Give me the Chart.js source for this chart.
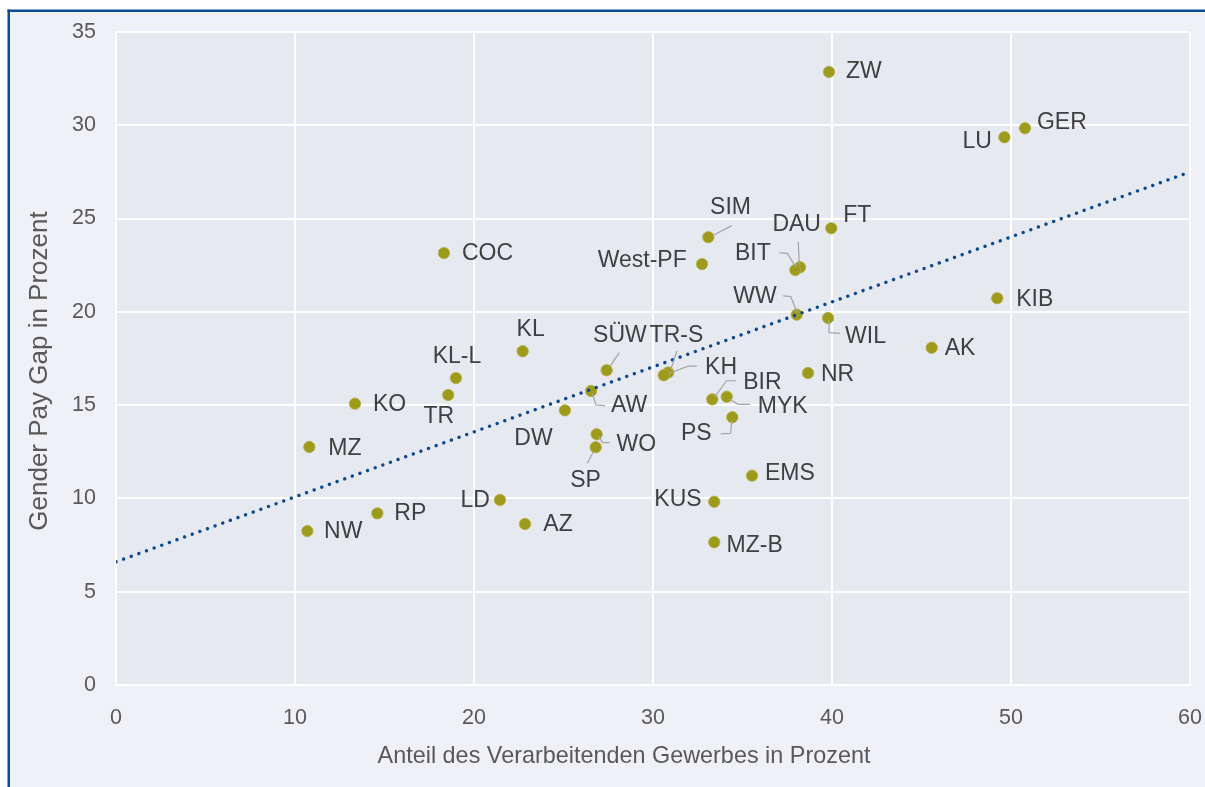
<!DOCTYPE html>
<html>
<head>
<meta charset="utf-8">
<script src="https://cdn.jsdelivr.net/npm/chart.js@4"></script>
<style>
  html, body { margin: 0; padding: 0; background: #ffffff; overflow: hidden; }
  #c { display: block; }
</style>
</head>
<body>
<canvas id="c" width="1205" height="787"></canvas>
<script>
// ---- Data ----
const regions = ["ZW","GER","LU","KIB","AK","SIM","West-PF","DAU","BIT","FT","WW","WIL","COC",
  "KL","KL-L","TR","SÜW","TR-S","KH","AW","DW","BIR","MYK","PS","WO","SP","KO","MZ","NR",
  "RP","NW","LD","AZ","KUS","EMS","MZ-B"];
const manufacturingShare = [39.83,50.78,49.63,49.23,45.57,33.09,32.74,38.21,37.95,39.96,38.03,39.78,18.32,
  22.72,18.99,18.56,27.41,30.85,30.6,26.54,25.08,33.31,34.12,34.43,26.85,26.8,13.35,10.8,38.66,
  14.6,10.69,21.45,22.85,33.42,35.53,33.42];
const genderPayGap = [32.86,29.84,29.36,20.73,18.08,24.0,22.56,22.39,22.24,24.48,19.85,19.67,23.15,
  17.89,16.45,15.54,16.87,16.75,16.6,15.76,14.72,15.31,15.45,14.35,13.44,12.74,15.08,12.76,16.72,
  9.2,8.25,9.92,8.63,9.82,11.22,7.65];
const trendX = [0, 60];
const trendY = [6.6, 27.5];
const xTicks = [0,10,20,30,40,50,60];
const yTicks = [0,5,10,15,20,25,30,35];
const xTitle = "Anteil des Verarbeitenden Gewerbes in Prozent";
const yTitle = "Gender Pay Gap in Prozent";

// ---- Label placement (pixel offsets from the point; presentation only) ----
// [dx, dy, align, leaderPolyline]
const labelPlacement = {
  "ZW": [17, 0, "left"],
  "GER": [12, -6, "left"],
  "LU": [-12.6, 4, "right"],
  "KIB": [19, 1, "left"],
  "AK": [13, 1, "left"],
  "SIM": [22.2, -29.5, "center", [[5,-2],[23.4,-11.6]]],
  "West-PF": [-15.3, -3.3, "right"],
  "DAU": [-3.3, -42.8, "center", [[-1.7,-25.6],[-0.7,-3]]],
  "BIT": [-24.6, -16.3, "right", [[-16.3,-17.3],[-8,-16.7],[0.7,-2.7]]],
  "FT": [12, -12.5, "left"],
  "WW": [-20, -18, "right", [[-13.4,-18.7],[-6,-18],[0.6,-2]]],
  "WIL": [17, 18.6, "left", [[1,2],[1,14.6],[12,15.3]]],
  "COC": [18, 1, "left"],
  "KL": [8, -22, "center"],
  "KL-L": [1, -21, "center"],
  "TR": [-9.5, 22, "center"],
  "SÜW": [13.3, -34.3, "center", [[12.6,-17.6],[3.3,-3.6]]],
  "TR-S": [8.2, -37.3, "center", [[8.7,-21.6],[2.7,-3.3]]],
  "KH": [41.3, -7.7, "left", [[33,-9.2],[24.6,-9.2],[5.6,-2]]],
  "AW": [20, 15, "left", [[1,2.3],[5,14],[14,14.7]]],
  "DW": [-12.3, 28.7, "right"],
  "BIR": [31, -16.8, "left", [[23.7,-18.6],[14.4,-18.6],[2,-2]]],
  "MYK": [31, 10, "left", [[2.6,2.6],[11.6,7.6],[23.3,7.6]]],
  "PS": [-20.6, 16.7, "right", [[-0.6,2.7],[-1.6,16],[-11.6,16.7]]],
  "WO": [20, 10, "left", [[1.6,1.7],[6,8.4],[13.3,8.4]]],
  "SP": [-10.2, 33.2, "center", [[-2.4,4.4],[-8.4,16]]],
  "KO": [18, 1.3, "left"],
  "MZ": [19, 1.3, "left"],
  "NR": [13, 2, "left"],
  "RP": [17, 0.7, "left"],
  "NW": [16.7, 0.7, "left"],
  "LD": [-10, 0.7, "right"],
  "AZ": [18.3, 1, "left"],
  "KUS": [-12.6, -2.4, "right"],
  "EMS": [13, -2.4, "left"],
  "MZ-B": [12.4, 3.7, "left"]
};

const FONT = '"Liberation Sans", Arial, sans-serif';
const OLIVE = '#9e9a1c';
const NAVY = '#0b4a8c';

const framePlugin = {
  id: 'frame',
  beforeDraw(chart) {
    const ctx = chart.ctx, W = chart.width, H = chart.height;
    ctx.save();
    ctx.fillStyle = '#ffffff';
    ctx.fillRect(0, 0, W, H);
    ctx.fillStyle = '#f0f1f7';
    ctx.fillRect(8, 10, W, H);
    ctx.fillStyle = '#0d4a8e';
    ctx.fillRect(7.5, 9.5, W, 2.5);
    ctx.fillRect(7.5, 9.5, 2.5, H);
    const a = chart.chartArea;
    ctx.fillStyle = '#e7e9f1';
    ctx.fillRect(a.left, a.top, a.right - a.left, a.bottom - a.top);
    ctx.restore();
  },
  afterDraw(chart) {
    const ctx = chart.ctx, a = chart.chartArea;
    ctx.save();
    ctx.fillStyle = '#595959';
    ctx.textAlign = 'center';
    ctx.textBaseline = 'middle';
    // x-axis title
    ctx.font = '23.4px ' + FONT;
    ctx.fillText(xTitle, 624, 757);
    // y-axis title (vertical)
    ctx.translate(40, 371);
    ctx.rotate(-Math.PI / 2);
    ctx.font = '26px ' + FONT;
    ctx.fillText(yTitle, 0, 0);
    ctx.restore();
  }
};

const labelPlugin = {
  id: 'pointLabels',
  afterDatasetsDraw(chart) {
    const ctx = chart.ctx;
    const meta = chart.getDatasetMeta(1);
    ctx.save();
    ctx.font = '23px ' + FONT;
    ctx.textBaseline = 'middle';
    meta.data.forEach((el, i) => {
      const name = regions[i];
      const p = labelPlacement[name] || [14, 0, 'left'];
      const x = el.x, y = el.y;
      if (p[3]) {
        ctx.strokeStyle = '#a5a5a5';
        ctx.lineWidth = 1.2;
        ctx.beginPath();
        p[3].forEach((q, k) => {
          if (k === 0) ctx.moveTo(x + q[0], y + q[1]); else ctx.lineTo(x + q[0], y + q[1]);
        });
        ctx.stroke();
      }
      ctx.fillStyle = '#404040';
      ctx.textAlign = p[2];
      ctx.fillText(name, x + p[0], y + p[1]);
    });
    ctx.restore();
  }
};

new Chart(document.getElementById('c'), {
  type: 'scatter',
  data: {
    datasets: [
      {
        label: 'Trend',
        type: 'line',
        data: trendX.map((x, i) => ({ x: x, y: trendY[i] })),
        borderColor: NAVY,
        borderWidth: 3.4,
        borderDash: [0.01, 8.1],
        borderCapStyle: 'round',
        pointRadius: 0,
        fill: false,
        tension: 0,
        order: 0
      },
      {
        label: 'Kreise',
        data: manufacturingShare.map((x, i) => ({ x: x, y: genderPayGap[i] })),
        backgroundColor: OLIVE,
        borderColor: '#b3b04a',
        borderWidth: 0.8,
        pointRadius: 5.7,
        order: 1
      }
    ]
  },
  options: {
    responsive: false,
    animation: false,
    devicePixelRatio: 1,
    layout: { padding: { left: 20, right: 15, top: 32, bottom: 0 } },
    plugins: { legend: { display: false }, tooltip: { enabled: false }, title: { display: false } },
    scales: {
      x: {
        type: 'linear',
        min: 0, max: 60,
        afterBuildTicks(s) { s.ticks = xTicks.map(v => ({ value: v })); },
        afterFit(s) { s.height = 102; s.paddingLeft = 0; s.paddingRight = 0; },
        grid: { color: '#ffffff', lineWidth: 2, drawTicks: false },
        border: { display: true, color: '#ffffff', width: 2 },
        ticks: { color: '#595959', font: { family: FONT, size: 21.5 }, padding: 20, maxRotation: 0 },
        title: { display: false, text: xTitle }
      },
      y: {
        type: 'linear',
        min: 0, max: 35,
        afterBuildTicks(s) { s.ticks = yTicks.map(v => ({ value: v })); },
        afterFit(s) { s.width = 96; s.paddingTop = 0; s.paddingBottom = 0; },
        grid: { color: '#ffffff', lineWidth: 2, drawTicks: false },
        border: { display: true, color: '#ffffff', width: 2 },
        ticks: { color: '#595959', font: { family: FONT, size: 21.5 }, padding: 20 },
        title: { display: false, text: yTitle }
      }
    }
  },
  plugins: [framePlugin, labelPlugin]
});
</script>
</body>
</html>
